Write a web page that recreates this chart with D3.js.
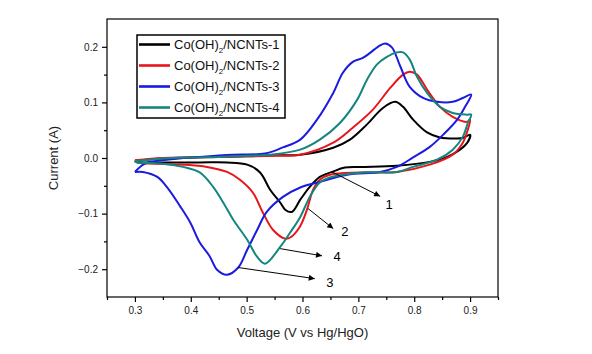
<!DOCTYPE html>
<html>
<head>
<meta charset="utf-8">
<script src="https://cdn.jsdelivr.net/npm/d3@7"></script>
<style>
  body { margin: 0; background: #fff; }
  text { font-family: "Liberation Sans", Arial, sans-serif; }
</style>
</head>
<body>
<div id="chart"></div>
<script>
// CV loops: forward sweep then reverse sweep (V, A)
const v1 = [0.30,0.35,0.40,0.45,0.50,0.55,0.596,0.655,0.685,0.715,0.744,0.766,0.780,0.798,0.823,0.846,0.877,0.887,0.900,
            0.896,0.882,0.859,0.828,0.769,0.708,0.676,0.653,0.631,0.613,0.596,0.581,0.569,0.560,0.542,0.524,0.501,0.465,0.416,0.357,0.304,0.30];
const i1 = [-0.005,-0.001,0.001,0.002,0.003,0.005,0.006,0.0185,0.033,0.060,0.090,0.101,0.092,0.069,0.046,0.037,0.035,0.036,0.042,
            0.029,0.015,0.002,-0.007,-0.014,-0.016,-0.017,-0.025,-0.034,-0.052,-0.075,-0.097,-0.093,-0.080,-0.057,-0.026,-0.012,-0.008,-0.008,-0.008,-0.007,-0.005];

const v2 = [0.30,0.35,0.40,0.45,0.50,0.55,0.596,0.655,0.690,0.726,0.757,0.780,0.792,0.805,0.823,0.846,0.869,0.894,0.900,
            0.896,0.887,0.869,0.828,0.769,0.703,0.649,0.631,0.619,0.608,0.595,0.578,0.569,0.547,0.529,0.511,0.488,0.465,0.429,0.386,0.327,0.304,0.30];
const i2 = [-0.004,0.000,0.001,0.002,0.003,0.004,0.006,0.0275,0.0545,0.087,0.126,0.150,0.155,0.150,0.123,0.092,0.074,0.065,0.069,
            0.051,0.0275,0.006,-0.012,-0.025,-0.026,-0.030,-0.039,-0.057,-0.093,-0.124,-0.143,-0.145,-0.129,-0.098,-0.062,-0.039,-0.025,-0.016,-0.012,-0.010,-0.008,-0.004];

const v3 = [0.30,0.318,0.357,0.416,0.476,0.533,0.565,0.596,0.626,0.655,0.672,0.690,0.708,0.721,0.735,0.748,0.760,0.775,0.792,0.816,0.841,0.869,0.887,0.902,
            0.891,0.877,0.852,0.828,0.798,0.769,0.739,0.680,0.631,0.596,0.565,0.536,0.519,0.501,0.485,0.465,0.447,0.434,0.416,0.399,0.381,0.357,0.340,0.314,0.30];
const i3 = [-0.025,-0.010,-0.003,0.002,0.006,0.008,0.019,0.033,0.069,0.117,0.153,0.173,0.180,0.189,0.200,0.206,0.199,0.165,0.128,0.108,0.101,0.101,0.108,0.114,
            0.092,0.069,0.042,0.020,0.001,-0.016,-0.025,-0.030,-0.043,-0.053,-0.070,-0.097,-0.129,-0.165,-0.197,-0.210,-0.201,-0.177,-0.152,-0.116,-0.087,-0.052,-0.034,-0.025,-0.025];

const v4 = [0.30,0.35,0.40,0.45,0.50,0.542,0.596,0.631,0.667,0.698,0.715,0.733,0.751,0.769,0.780,0.792,0.805,0.823,0.846,0.869,0.894,0.902,
            0.896,0.887,0.869,0.841,0.798,0.769,0.708,0.649,0.631,0.613,0.596,0.578,0.560,0.533,0.519,0.501,0.476,0.458,0.440,0.416,0.386,0.345,0.304,0.30];
const i4 = [-0.006,-0.001,0.001,0.002,0.004,0.006,0.015,0.033,0.063,0.105,0.140,0.168,0.182,0.190,0.190,0.177,0.146,0.117,0.092,0.081,0.078,0.078,
            0.063,0.038,0.015,-0.003,-0.016,-0.025,-0.026,-0.035,-0.044,-0.070,-0.106,-0.134,-0.160,-0.190,-0.178,-0.147,-0.111,-0.080,-0.052,-0.026,-0.016,-0.010,-0.008,-0.006];

const seriesNames = ["Co(OH)|2|/NCNTs-1", "Co(OH)|2|/NCNTs-2", "Co(OH)|2|/NCNTs-3", "Co(OH)|2|/NCNTs-4"];
const seriesColors = ["#000000", "#e8161b", "#1a1ae0", "#14867f"];

const xTicks = [0.3, 0.4, 0.5, 0.6, 0.7, 0.8, 0.9];
const xMinor = [0.25, 0.35, 0.45, 0.55, 0.65, 0.75, 0.85, 0.95];
const yTicks = [-0.2, -0.1, 0.0, 0.1, 0.2];
const yMinor = [-0.15, -0.05, 0.05, 0.15];

// annotation arrows: [V start, I start, V end, I end], labels
const arrowStart = [[0.653,-0.025],[0.610,-0.091],[0.560,-0.163],[0.485,-0.197]];
const arrowEnd   = [[0.739,-0.069],[0.655,-0.127],[0.635,-0.176],[0.622,-0.217]];
const arrowLabels = ["1", "2", "4", "3"];
const labelPos   = [[0.755,-0.083],[0.676,-0.133],[0.662,-0.178],[0.649,-0.224]];

const width = 592, height = 354;
const svg = d3.select("#chart").append("svg")
    .attr("width", width)
    .attr("height", height);

const x = d3.scaleLinear().domain([0.25, 0.95]).range([107, 498]);
const y = d3.scaleLinear().domain([-0.25, 0.25]).range([297, 19]);

// frame
svg.append("rect")
    .attr("x", x(0.25)).attr("y", y(0.25))
    .attr("width", x(0.95) - x(0.25)).attr("height", y(-0.25) - y(0.25))
    .attr("fill", "none").attr("stroke", "#000").attr("stroke-width", 1.2);

const fmt = d3.format(".1f");
svg.append("g").attr("transform", `translate(0,${y(-0.25)})`)
    .call(d3.axisBottom(x).tickValues(xTicks).tickFormat(fmt).tickSize(5).tickSizeOuter(0).tickPadding(5));
svg.append("g").attr("transform", `translate(0,${y(-0.25)})`)
    .call(d3.axisBottom(x).tickValues(xMinor).tickFormat("").tickSize(3).tickSizeOuter(0));
const yAxis = svg.append("g").attr("transform", `translate(${x(0.25)},0)`)
    .call(d3.axisLeft(y).tickValues(yTicks).tickFormat(fmt).tickSize(5).tickSizeOuter(0).tickPadding(4));
svg.append("g").attr("transform", `translate(${x(0.25)},0)`)
    .call(d3.axisLeft(y).tickValues(yMinor).tickFormat("").tickSize(3).tickSizeOuter(0));

svg.selectAll(".domain").remove();
svg.selectAll(".tick line").attr("stroke", "#000").attr("stroke-width", 1.2);
svg.selectAll(".tick text").attr("font-size", "10px").attr("fill", "#222")
    .attr("font-family", "'Liberation Sans', Arial, sans-serif");
yAxis.selectAll(".tick text").text(d => d === 0 ? "0.0" : fmt(d));

// axis titles
svg.append("text")
    .attr("x", x(0.6)).attr("y", 337)
    .attr("text-anchor", "middle").attr("font-size", "13px").attr("fill", "#222")
    .text("Voltage (V vs Hg/HgO)");
svg.append("text")
    .attr("transform", `translate(58,${y(0)}) rotate(-90)`)
    .attr("text-anchor", "middle").attr("font-size", "13px").attr("fill", "#222")
    .text("Current (A)");

// curves
const line = d3.line()
    .x(d => x(d[0]))
    .y(d => y(d[1]))
    .curve(d3.curveCatmullRom.alpha(0.5));

const allV = [v1, v2, v3, v4];
const allI = [i1, i2, i3, i4];
allV.forEach((vs, k) => {
    const pts = vs.map((v, j) => [v, allI[k][j]]);
    svg.append("path")
        .datum(pts)
        .attr("d", line)
        .attr("fill", "none")
        .attr("stroke", seriesColors[k])
        .attr("stroke-width", 2)
        .attr("stroke-linejoin", "round");
});

// arrows
svg.append("defs").append("marker")
    .attr("id", "arrow")
    .attr("viewBox", "0 0 10 10")
    .attr("refX", 10).attr("refY", 5)
    .attr("markerWidth", 10).attr("markerHeight", 6)
    .attr("markerUnits", "userSpaceOnUse")
    .attr("orient", "auto")
    .append("path").attr("d", "M0,0 L10,5 L0,10 Z").attr("fill", "#000");

arrowStart.forEach((s, k) => {
    const e = arrowEnd[k];
    svg.append("line")
        .attr("x1", x(s[0])).attr("y1", y(s[1]))
        .attr("x2", x(e[0])).attr("y2", y(e[1]))
        .attr("stroke", "#000").attr("stroke-width", 1)
        .attr("marker-end", "url(#arrow)");
    svg.append("text")
        .attr("x", x(labelPos[k][0])).attr("y", y(labelPos[k][1]))
        .attr("text-anchor", "middle").attr("dominant-baseline", "central")
        .attr("font-size", "13px").attr("fill", "#000")
        .text(arrowLabels[k]);
});

// legend
const legend = svg.append("g");
legend.append("rect")
    .attr("x", 137).attr("y", 35).attr("width", 148).attr("height", 83)
    .attr("fill", "#fff").attr("stroke", "#000").attr("stroke-width", 1.5);
seriesNames.forEach((name, k) => {
    const cy = 44.5 + k * 21;
    legend.append("line")
        .attr("x1", 139).attr("x2", 170).attr("y1", cy).attr("y2", cy)
        .attr("stroke", seriesColors[k]).attr("stroke-width", 2.6);
    const parts = name.split("|");
    const t = legend.append("text")
        .attr("x", 174).attr("y", cy + 4.5)
        .attr("font-size", "13px").attr("fill", "#111");
    t.append("tspan").text(parts[0]);
    t.append("tspan").attr("font-size", "8px").attr("dy", 4).text(parts[1]);
    t.append("tspan").attr("dy", -4).text(parts[2]);
});
</script>
</body>
</html>
